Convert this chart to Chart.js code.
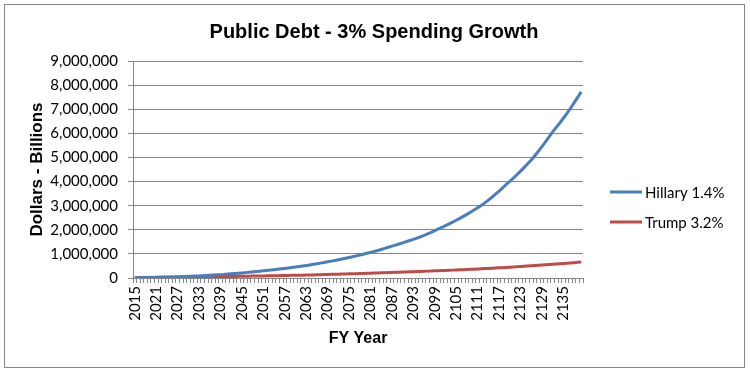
<!DOCTYPE html>
<html>
<head>
<meta charset="utf-8">
<script src="https://cdn.jsdelivr.net/npm/chart.js@4/dist/chart.umd.min.js"></script>
<style>
html,body{margin:0;padding:0;background:#fff;}
#wrap{position:relative;width:750px;height:373px;}
</style>
</head>
<body>
<div id="wrap"><canvas id="c" width="750" height="373"></canvas></div>
<script>
const chartTitle = "Public Debt - 3% Spending Growth";
const xTitle = "FY Year";
const yTitle = "Dollars - Billions";

const years = [];
for (let y = 2015; y <= 2140; y++) years.push(String(y));

const hillaryLabel = "Hillary 1.4%";
const hillary = [
  14000, 16000, 18000, 20000, 22500, 25000, 28000, 31000, 34000, 37000,
  41000, 46000, 51000, 56000, 62000, 68000, 74000, 80000, 87000, 94000,
  102000, 110000, 120000, 130000, 140000, 150000, 161000, 172000, 184000, 197000,
  210000, 223000, 237000, 251000, 266000, 281000, 296000, 312000, 328000, 345000,
  362000, 380000, 398000, 417000, 436000, 456000, 476000, 497000, 519000, 542000,
  566000, 591000, 617000, 644000, 672000, 700000, 728000, 757000, 787000, 818000,
  850000, 883000, 917000, 952000, 988000, 1025000, 1063000, 1102000, 1142000, 1184000,
  1228000, 1273000, 1320000, 1365000, 1411000, 1458000, 1506000, 1555000, 1605000, 1657000,
  1710000, 1770000, 1832000, 1897000, 1965000, 2035000, 2103000, 2173000, 2245000, 2319000,
  2395000, 2473000, 2555000, 2640000, 2728000, 2818000, 2910000, 3005000, 3115000, 3230000,
  3350000, 3475000, 3605000, 3740000, 3880000, 4010000, 4145000, 4285000, 4430000, 4580000,
  4735000, 4895000, 5070000, 5255000, 5445000, 5645000, 5850000, 6060000, 6245000, 6430000,
  6625000, 6825000, 7040000, 7260000, 7490000, 7720000
];

const trumpLabel = "Trump 3.2%";
const trump = [
  14000, 15700, 17400, 19100, 20800, 22500, 24200, 26000, 27800, 29600,
  31400, 33200, 35000, 36800, 38600, 40400, 42400, 44400, 46400, 48400,
  50400, 52400, 54400, 56400, 58400, 60400, 62400, 64400, 66400, 68400,
  70400, 73100, 75800, 78500, 81200, 84000, 86800, 89600, 92400, 95200,
  98000, 100800, 103600, 106400, 109200, 112000, 114800, 117600, 120400, 124700,
  129000, 133300, 137600, 141900, 146200, 150500, 154800, 159100, 163400, 167700,
  172000, 176400, 180800, 185200, 189600, 195000, 200300, 205600, 210900, 216200,
  221500, 226800, 232100, 237400, 242700, 248000, 253300, 258600, 263900, 269200,
  274500, 279800, 285100, 290400, 295700, 301000, 307400, 313800, 320200, 326600,
  333000, 339400, 345800, 352200, 358600, 365000, 373000, 381000, 389000, 397000,
  405000, 413000, 421000, 429000, 437000, 445000, 455000, 465000, 475000, 485000,
  495000, 505000, 515000, 525000, 535000, 545000, 556500, 568000, 579500, 591000,
  602500, 614000, 625500, 637000, 648500, 660000
];

const yMax = 9000000;
const yStep = 1000000;

const GRID = "#868686";
const FONT_TICK = "Lato, 'Open Sans', sans-serif";
const FONT_BOLD = "'Liberation Sans', Arial, sans-serif";

const decor = {
  id: "decor",
  beforeDraw(chart) {
    const ctx = chart.ctx;
    ctx.save();
    ctx.fillStyle = "#fff";
    ctx.fillRect(0, 0, chart.width, chart.height);
    ctx.strokeStyle = "#868686";
    ctx.lineWidth = 1;
    ctx.strokeRect(4.5, 4.5, 740, 363);
    ctx.restore();
  },
  afterDraw(chart) {
    const ctx = chart.ctx;
    ctx.save();
    ctx.fillStyle = "#000";
    ctx.font = "bold 20px " + FONT_BOLD;
    ctx.textAlign = "center";
    ctx.textBaseline = "middle";
    ctx.fillText(chartTitle, 374, 32);
    ctx.font = "15px " + FONT_TICK;
    ctx.textAlign = "left";
    chart.data.datasets.forEach((ds, i) => {
      const y = 192 + 30 * i;
      ctx.strokeStyle = ds.borderColor;
      ctx.lineWidth = 3;
      ctx.beginPath();
      ctx.moveTo(610, y);
      ctx.lineTo(642, y);
      ctx.stroke();
      ctx.fillStyle = "#000";
      ctx.fillText(ds.label, 645, y + 1);
    });
    ctx.restore();
  }
};

new Chart(document.getElementById("c"), {
  type: "line",
  data: {
    labels: years,
    datasets: [
      { label: hillaryLabel, data: hillary, borderColor: "#4a7ebb", backgroundColor: "#4a7ebb",
        borderWidth: 3, pointRadius: 0, tension: 0, fill: false },
      { label: trumpLabel, data: trump, borderColor: "#be4b48", backgroundColor: "#be4b48",
        borderWidth: 3, pointRadius: 0, tension: 0, fill: false }
    ]
  },
  options: {
    responsive: false,
    animation: false,
    devicePixelRatio: 1,
    layout: { padding: { left: 0, top: 61, right: 167, bottom: 0 } },
    plugins: { legend: { display: false }, title: { display: false }, tooltip: { enabled: false } },
    scales: {
      x: {
        type: "category",
        offset: true,
        grid: { display: true, drawOnChartArea: false, drawTicks: true, tickLength: 5, color: GRID, offset: true },
        border: { display: true, color: GRID, width: 1 },
        ticks: {
          autoSkip: false, minRotation: 90, maxRotation: 90, padding: 3,
          color: "#000", font: { family: FONT_TICK, size: 15 },
          callback: function (v, i) { return (i % 6 === 0) ? this.getLabelForValue(v) : ""; }
        },
        title: { display: true, text: xTitle, color: "#000",
          font: { family: FONT_BOLD, size: 16, weight: "bold" }, padding: { top: 0, bottom: 25 } },
        afterFit: (s) => { s.height = 95; }
      },
      y: {
        min: 0, max: yMax,
        grid: { color: GRID, lineWidth: 1, tickLength: 5, drawTicks: true },
        border: { display: true, color: GRID, width: 1 },
        ticks: {
          stepSize: yStep, padding: 10, color: "#000",
          font: { family: FONT_TICK, size: 15 },
          callback: (v) => v.toLocaleString("en-US")
        },
        title: { display: true, text: yTitle, color: "#000",
          font: { family: FONT_BOLD, size: 17, weight: "bold" }, padding: { top: 27, bottom: 0 } },
        afterFit: (s) => { s.width = 133; }
      }
    }
  },
  plugins: [decor]
});
</script>
</body>
</html>
